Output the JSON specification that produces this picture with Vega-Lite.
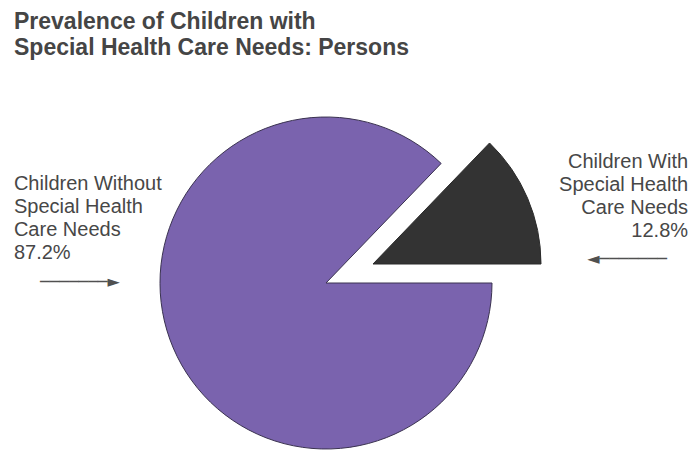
{
  "$schema": "https://vega.github.io/schema/vega-lite/v6.json",
  "width": 652,
  "height": 336,
  "autosize": {"type": "none"},
  "padding": {"left": 0, "top": 115, "right": 43, "bottom": 0},
  "background": "#ffffff",
  "title": {
    "text": ["Prevalence of Children with", "Special Health Care Needs: Persons"],
    "anchor": "start",
    "frame": "group",
    "font": "Liberation Sans, Arial, sans-serif",
    "fontWeight": "bold",
    "fontSize": 23,
    "lineHeight": 26,
    "color": "#454545",
    "dx": 14,
    "offset": 55
  },
  "data": {
    "values": [
      {"group": "Children With Special Health Care Needs", "label": "Children With\nSpecial Health\nCare Needs", "value": 12.8},
      {"group": "Children Without Special Health Care Needs", "label": "Children Without\nSpecial Health\nCare Needs", "value": 87.2}
    ]
  },
  "transform": [
    {"stack": "value", "groupby": [], "sort": [{"field": "value", "order": "ascending"}], "as": ["v0", "v1"]},
    {"calculate": "(datum.v0 + datum.v1) / 2", "as": "mid"},
    {"calculate": "datum.label + '\\n' + format(datum.value, '.1f') + '%'", "as": "text"}
  ],
  "config": {"view": {"stroke": null}},
  "resolve": {"scale": {"theta": "shared"}},
  "layer": [
    {
      "transform": [{"filter": "datum.value > 50"}],
      "mark": {"type": "arc", "radius": 166, "stroke": "#3a3250", "strokeWidth": 1, "fill": "#7a63ae"},
      "encoding": {
        "theta": {"field": "v0", "type": "quantitative", "stack": null, "scale": {"domain": [0, 100], "range": [0.76655, 7.04974]}},
        "theta2": {"field": "v1"}
      }
    },
    {
      "transform": [{"filter": "datum.value < 50"}],
      "mark": {"type": "arc", "radius": 168, "stroke": "#2a2a2a", "strokeWidth": 1, "fill": "#333333", "xOffset": 47, "yOffset": -19},
      "encoding": {
        "theta": {"field": "v0", "type": "quantitative", "stack": null},
        "theta2": {"field": "v1"}
      }
    },
    {
      "transform": [{"filter": "datum.value < 50"}],
      "mark": {"type": "text", "radius": 300, "align": "right", "baseline": "alphabetic", "lineBreak": "\n", "lineHeight": 23, "font": "Liberation Sans", "fontSize": 20, "color": "#474747", "dx": 86, "dy": 2},
      "encoding": {
        "theta": {"field": "mid", "type": "quantitative", "stack": null},
        "text": {"field": "text"}
      }
    },
    {
      "transform": [{"filter": "datum.value > 50"}],
      "mark": {"type": "text", "radius": 300, "align": "left", "baseline": "alphabetic", "lineBreak": "\n", "lineHeight": 23, "font": "Liberation Sans", "fontSize": 20, "color": "#474747", "dx": -36, "dy": -210},
      "encoding": {
        "theta": {"field": "mid", "type": "quantitative", "stack": null},
        "text": {"field": "text"}
      }
    },
    {
      "transform": [{"filter": "datum.value > 50"}],
      "mark": {"type": "text", "radius": 300, "align": "center", "baseline": "middle", "font": "DejaVu Sans", "fontSize": 16, "color": "#505050", "dx": 30, "dy": -118},
      "encoding": {
        "theta": {"field": "mid", "type": "quantitative", "stack": null},
        "text": {"value": "───────►"}
      }
    },
    {
      "transform": [{"filter": "datum.value < 50"}],
      "mark": {"type": "text", "radius": 300, "align": "center", "baseline": "middle", "font": "DejaVu Sans", "fontSize": 16, "color": "#505050", "dx": 25, "dy": 93},
      "encoding": {
        "theta": {"field": "mid", "type": "quantitative", "stack": null},
        "text": {"value": "◄───────"}
      }
    }
  ]
}
